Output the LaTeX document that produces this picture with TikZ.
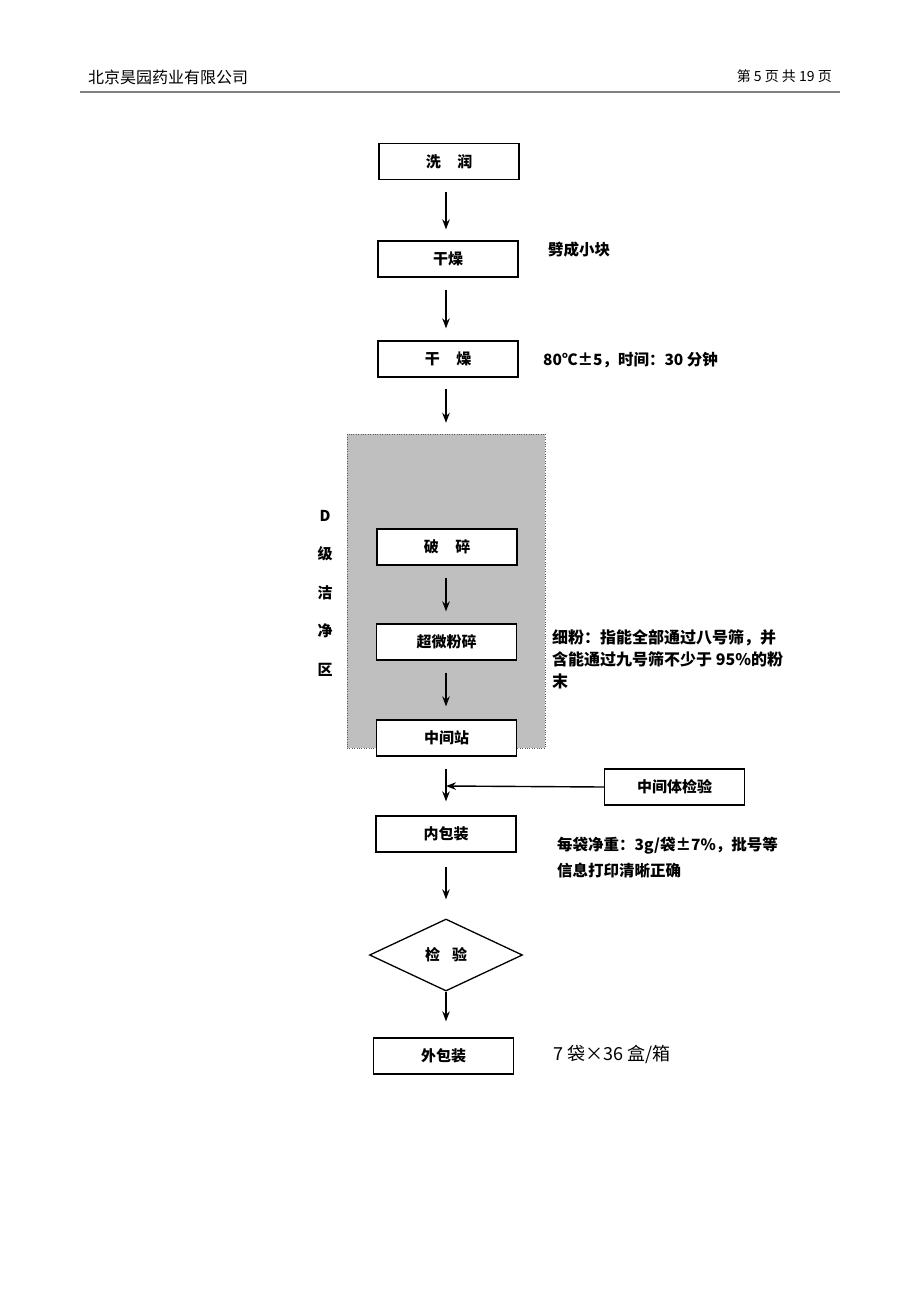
\documentclass[tikz,border=0pt]{standalone}
\usepackage{fontspec}
\setmainfont{Liberation Sans}
\newfontfamily\cjk{Noto Sans CJK SC}
\usetikzlibrary{arrows.meta, shapes.geometric}

\tikzset{
	stepbox/.style={draw, line width=1.3pt, fill=white, minimum width=140pt,
		minimum height=36pt, inner sep=0pt, font=\cjk\bfseries\fontsize{15}{18}\selectfont},
	checkbox/.style={draw, diamond, line width=1.3pt, fill=white, aspect=2.1,
		minimum width=153pt, minimum height=72pt, inner sep=0pt,
		font=\cjk\bfseries\fontsize{15}{18}\selectfont},
	zone/.style={draw=gray!70!black, dotted, fill=gray!50, minimum width=198pt,
		minimum height=314pt, inner sep=0pt},
	flow/.style={line width=1.4pt, -{Stealth[length=10pt, width=7.5pt]}},
	note/.style={anchor=west, inner sep=0pt, align=left,
		font=\cjk\bfseries\fontsize{15.5}{22}\selectfont},
}

\begin{document}
\begin{tikzpicture}[x=1pt, y=-1pt]
\useasboundingbox (0,0) rectangle (920,1302);

% page header
\node[anchor=west, inner sep=0pt, font=\cjk\fontsize{16}{18}\selectfont] (company) at (88,77) {北京昊园药业有限公司};
\node[anchor=east, inner sep=0pt, font=\cjk\fontsize{14}{18}\selectfont] (pageno) at (832,76) {第 5 页 共 19 页};
\draw [line width=1.5pt, gray] (80,92) -- (840,92);

% clean zone
\node[zone] (dzone) at (446,591) {};
\node[inner sep=0pt, align=center, font=\cjk\bfseries\fontsize{15}{38.5}\selectfont] (zonelabel) at (325,593)
	{D\\级\\洁\\净\\区};

% steps
\node[stepbox] (xirun) at (449,161.5) {洗\hspace{1.1em}润};
\node[stepbox] (pikuai) at (448,259) {干燥};
\node[stepbox] (ganzao) at (448,359) {干\hspace{1.1em}燥};
\node[stepbox] (posui) at (447,547) {破\hspace{1.1em}碎};
\node[stepbox] (chaowei) at (446.5,642) {超微粉碎};
\node[stepbox] (zhongjian) at (446.5,738) {中间站};
\node[stepbox] (midcheck) at (674.5,787) {中间体检验};
\node[stepbox] (neibao) at (446,834) {内包装};
\node[checkbox] (check) at (446,955) {检\hspace{0.8em}验};
\node[stepbox] (waibao) at (443.5,1056) {外包装};
\coordinate (merge) at (446,786);

% notes
\node[note] (cutnote) at (548,250) {劈成小块};
\node[note] (tempnote) at (543,360) {80℃±5，时间：30 分钟};
\node[note, font=\cjk\bfseries\fontsize{16}{22}\selectfont] (finenote) at (552,659)
	{细粉：指能全部通过八号筛，并\\含能通过九号筛不少于 95\%的粉\\末};
\node[note, font=\cjk\bfseries\fontsize{15.5}{26}\selectfont] (packnote) at (557,858)
	{每袋净重：3g/袋±7\%，批号等\\信息打印清晰正确};
\node[note, font=\cjk\fontsize{18}{22}\selectfont] (boxnote) at (553,1054) {7 袋×36 盒/箱};

% connectors
\draw [flow, shorten <=12pt, shorten >=11pt] (xirun.south -| merge) -- (pikuai.north -| merge);
\draw [flow, shorten <=12pt, shorten >=12pt] (pikuai.south -| merge) -- (ganzao.north -| merge);
\draw [flow, shorten <=11pt, shorten >=11pt] (ganzao.south -| merge) -- (dzone.north -| merge);
\draw [flow, shorten <=12pt, shorten >=12pt] (posui.south -| merge) -- (chaowei.north -| merge);
\draw [flow, shorten <=12pt, shorten >=13pt] (chaowei.south -| merge) -- (zhongjian.north -| merge);
\draw [flow, shorten <=12pt, shorten >=14pt] (zhongjian.south -| merge) -- (neibao.north -| merge);
\draw [flow] (midcheck.west) -- (merge);
\draw [flow, shorten <=14pt, shorten >=19pt] (neibao.south -| merge) -- (check.north);
\draw [flow, shorten >=16pt] (check.south) -- (waibao.north -| merge);

\end{tikzpicture}
\end{document}
